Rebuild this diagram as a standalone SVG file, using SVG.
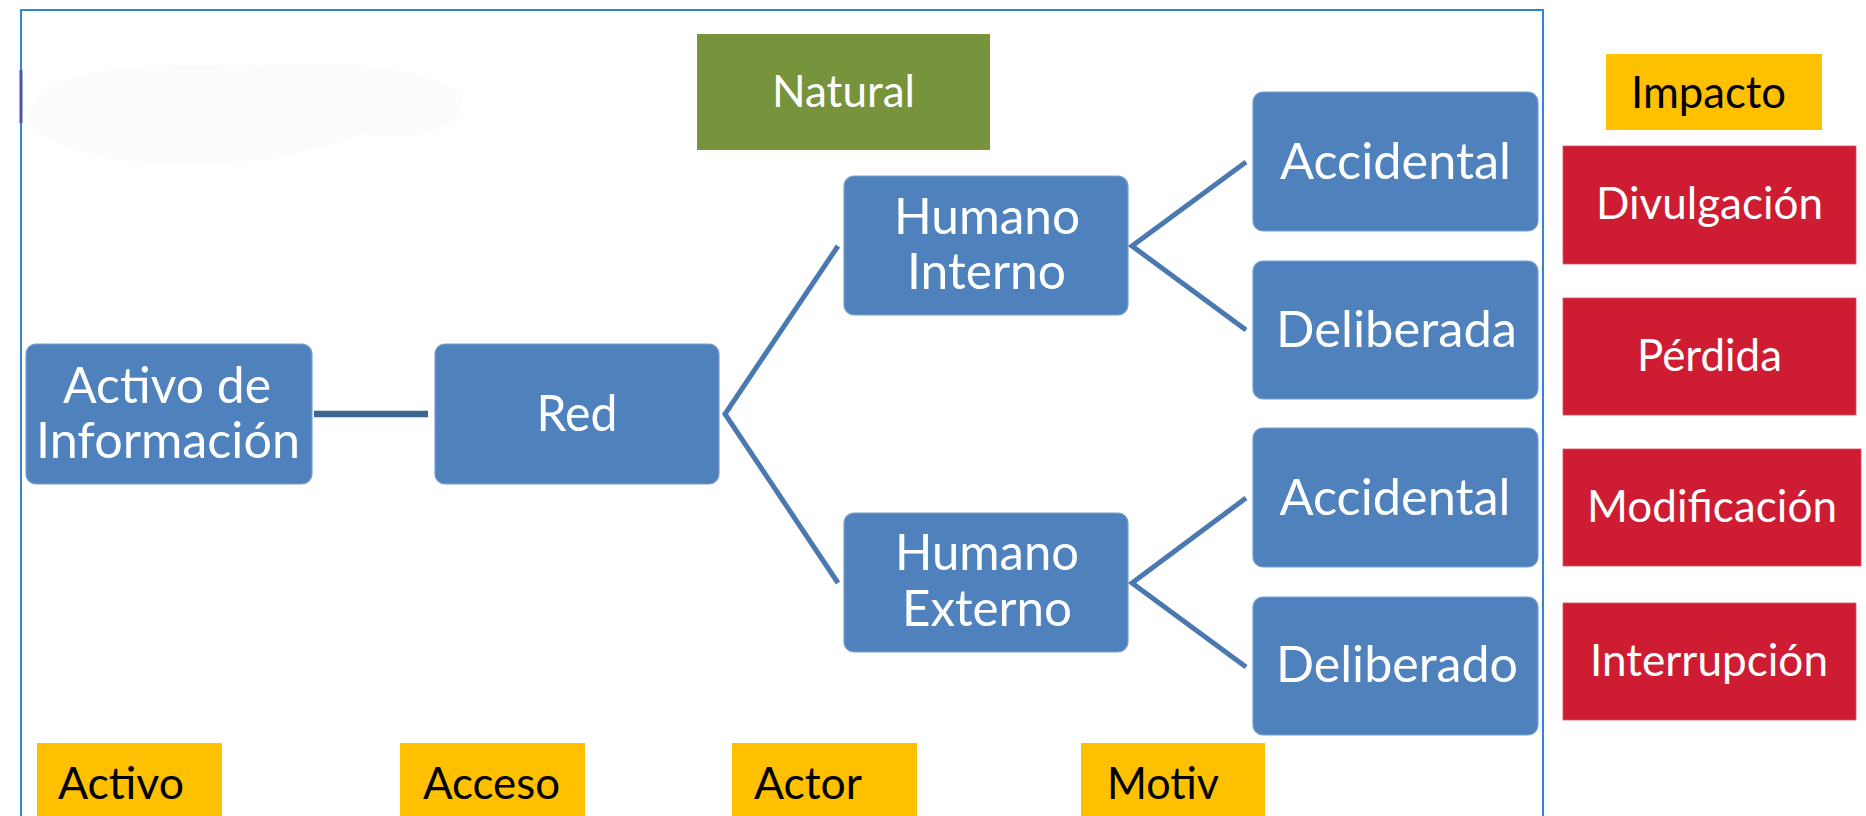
<svg xmlns="http://www.w3.org/2000/svg" width="1866" height="816" viewBox="0 0 1866 816">
<defs>
<style>
.bx{fill:#4F81BD;stroke:#7A9FCD;stroke-width:1.2}
.imp{fill:#CE1C32;stroke:#D9566A;stroke-width:0.8}
.lbl{fill:#FFC000}
.tw{font-family:Lato,"Liberation Sans",sans-serif;fill:#FFFFFF;text-anchor:middle}
.tb{font-family:Lato,"Liberation Sans",sans-serif;fill:#000000;text-anchor:middle}
.big{font-size:50px}
.med{font-size:44px}
.conn{fill:none;stroke:#4A78B0;stroke-width:5;stroke-linejoin:miter}
</style>
</defs>
<rect x="0" y="0" width="1866" height="816" fill="#FFFFFF"/>
<path d="M30,110 C40,70 140,62 240,66 C320,60 420,62 462,95 C470,130 420,140 360,135 C300,160 200,172 120,160 C60,150 28,135 30,110 Z" fill="#FCFCFC"/>
<rect id="frame" x="21" y="10" width="1522" height="840" fill="none" stroke="#2E86D4" stroke-width="2"/>
<line x1="21" y1="70" x2="21" y2="123" stroke="#4A55A8" stroke-width="3"/>
<g id="connectors">
<line x1="314" y1="414" x2="428" y2="414" stroke="#3D6593" stroke-width="6.5"/>
<polyline class="conn" points="838,246 725,414 838,583"/>
<polyline class="conn" points="1246,162 1132,246 1246,330"/>
<polyline class="conn" points="1246,498 1132,583 1246,667"/>
</g>
<g id="natural"><rect x="697" y="34" width="293" height="116" fill="#77933C"/><text class="tw med" x="843.5" y="107" textLength="143" lengthAdjust="spacingAndGlyphs">Natural</text></g>
<g id="activo-info"><rect class="bx" x="26" y="344" width="286" height="140" rx="10"/><text class="tw big" x="167" y="403" textLength="208" lengthAdjust="spacingAndGlyphs">Activo de</text><text class="tw big" x="168" y="458" textLength="264" lengthAdjust="spacingAndGlyphs">Información</text></g>
<g id="red"><rect class="bx" x="435" y="344" width="284" height="140" rx="10"/><text class="tw big" x="577" y="431" textLength="81" lengthAdjust="spacingAndGlyphs">Red</text></g>
<g id="humano-interno"><rect class="bx" x="844" y="176" width="284" height="139" rx="10"/><text class="tw big" x="987" y="234" textLength="186" lengthAdjust="spacingAndGlyphs">Humano</text><text class="tw big" x="986.5" y="289" textLength="159" lengthAdjust="spacingAndGlyphs">Interno</text></g>
<g id="humano-externo"><rect class="bx" x="844" y="513" width="284" height="139" rx="10"/><text class="tw big" x="987" y="570" textLength="184" lengthAdjust="spacingAndGlyphs">Humano</text><text class="tw big" x="987" y="626" textLength="170" lengthAdjust="spacingAndGlyphs">Externo</text></g>
<g id="accidental-1"><rect class="bx" x="1253" y="92" width="285" height="139" rx="10"/><text class="tw big" x="1395.5" y="179" textLength="231" lengthAdjust="spacingAndGlyphs">Accidental</text></g>
<g id="deliberada"><rect class="bx" x="1253" y="261" width="285" height="138" rx="10"/><text class="tw big" x="1396.5" y="347" textLength="241" lengthAdjust="spacingAndGlyphs">Deliberada</text></g>
<g id="accidental-2"><rect class="bx" x="1253" y="428" width="285" height="139" rx="10"/><text class="tw big" x="1395" y="515" textLength="231" lengthAdjust="spacingAndGlyphs">Accidental</text></g>
<g id="deliberado"><rect class="bx" x="1253" y="597" width="285" height="138" rx="10"/><text class="tw big" x="1397" y="682" textLength="242" lengthAdjust="spacingAndGlyphs">Deliberado</text></g>
<g id="impacto"><rect class="lbl" x="1606" y="54" width="216" height="76"/><text class="tb med" x="1708.5" y="108" textLength="155" lengthAdjust="spacingAndGlyphs">Impacto</text></g>
<g id="divulgacion"><rect class="imp" x="1563" y="146" width="293" height="118"/><text class="tw med" x="1709.5" y="219" textLength="227" lengthAdjust="spacingAndGlyphs">Divulgación</text></g>
<g id="perdida"><rect class="imp" x="1563" y="298" width="293" height="117"/><text class="tw med" x="1709.5" y="371" textLength="145" lengthAdjust="spacingAndGlyphs">Pérdida</text></g>
<g id="modificacion"><rect class="imp" x="1563" y="449" width="298" height="117"/><text class="tw med" x="1712" y="522" textLength="250" lengthAdjust="spacingAndGlyphs">Modificación</text></g>
<g id="interrupcion"><rect class="imp" x="1563" y="603" width="293" height="117"/><text class="tw med" x="1709" y="676" textLength="238" lengthAdjust="spacingAndGlyphs">Interrupción</text></g>
<g id="lbl-activo"><rect class="lbl" x="37" y="743" width="185" height="80"/><text class="tb med" x="121" y="799" textLength="126" lengthAdjust="spacingAndGlyphs">Activo</text></g>
<g id="lbl-acceso"><rect class="lbl" x="400" y="743" width="185" height="80"/><text class="tb med" x="491.5" y="799" textLength="137" lengthAdjust="spacingAndGlyphs">Acceso</text></g>
<g id="lbl-actor"><rect class="lbl" x="732" y="743" width="185" height="80"/><text class="tb med" x="808" y="799" textLength="108" lengthAdjust="spacingAndGlyphs">Actor</text></g>
<g id="lbl-motiv"><rect class="lbl" x="1081" y="743" width="184" height="80"/><text class="tb med" x="1163" y="799" textLength="112" lengthAdjust="spacingAndGlyphs">Motiv</text></g>
</svg>
